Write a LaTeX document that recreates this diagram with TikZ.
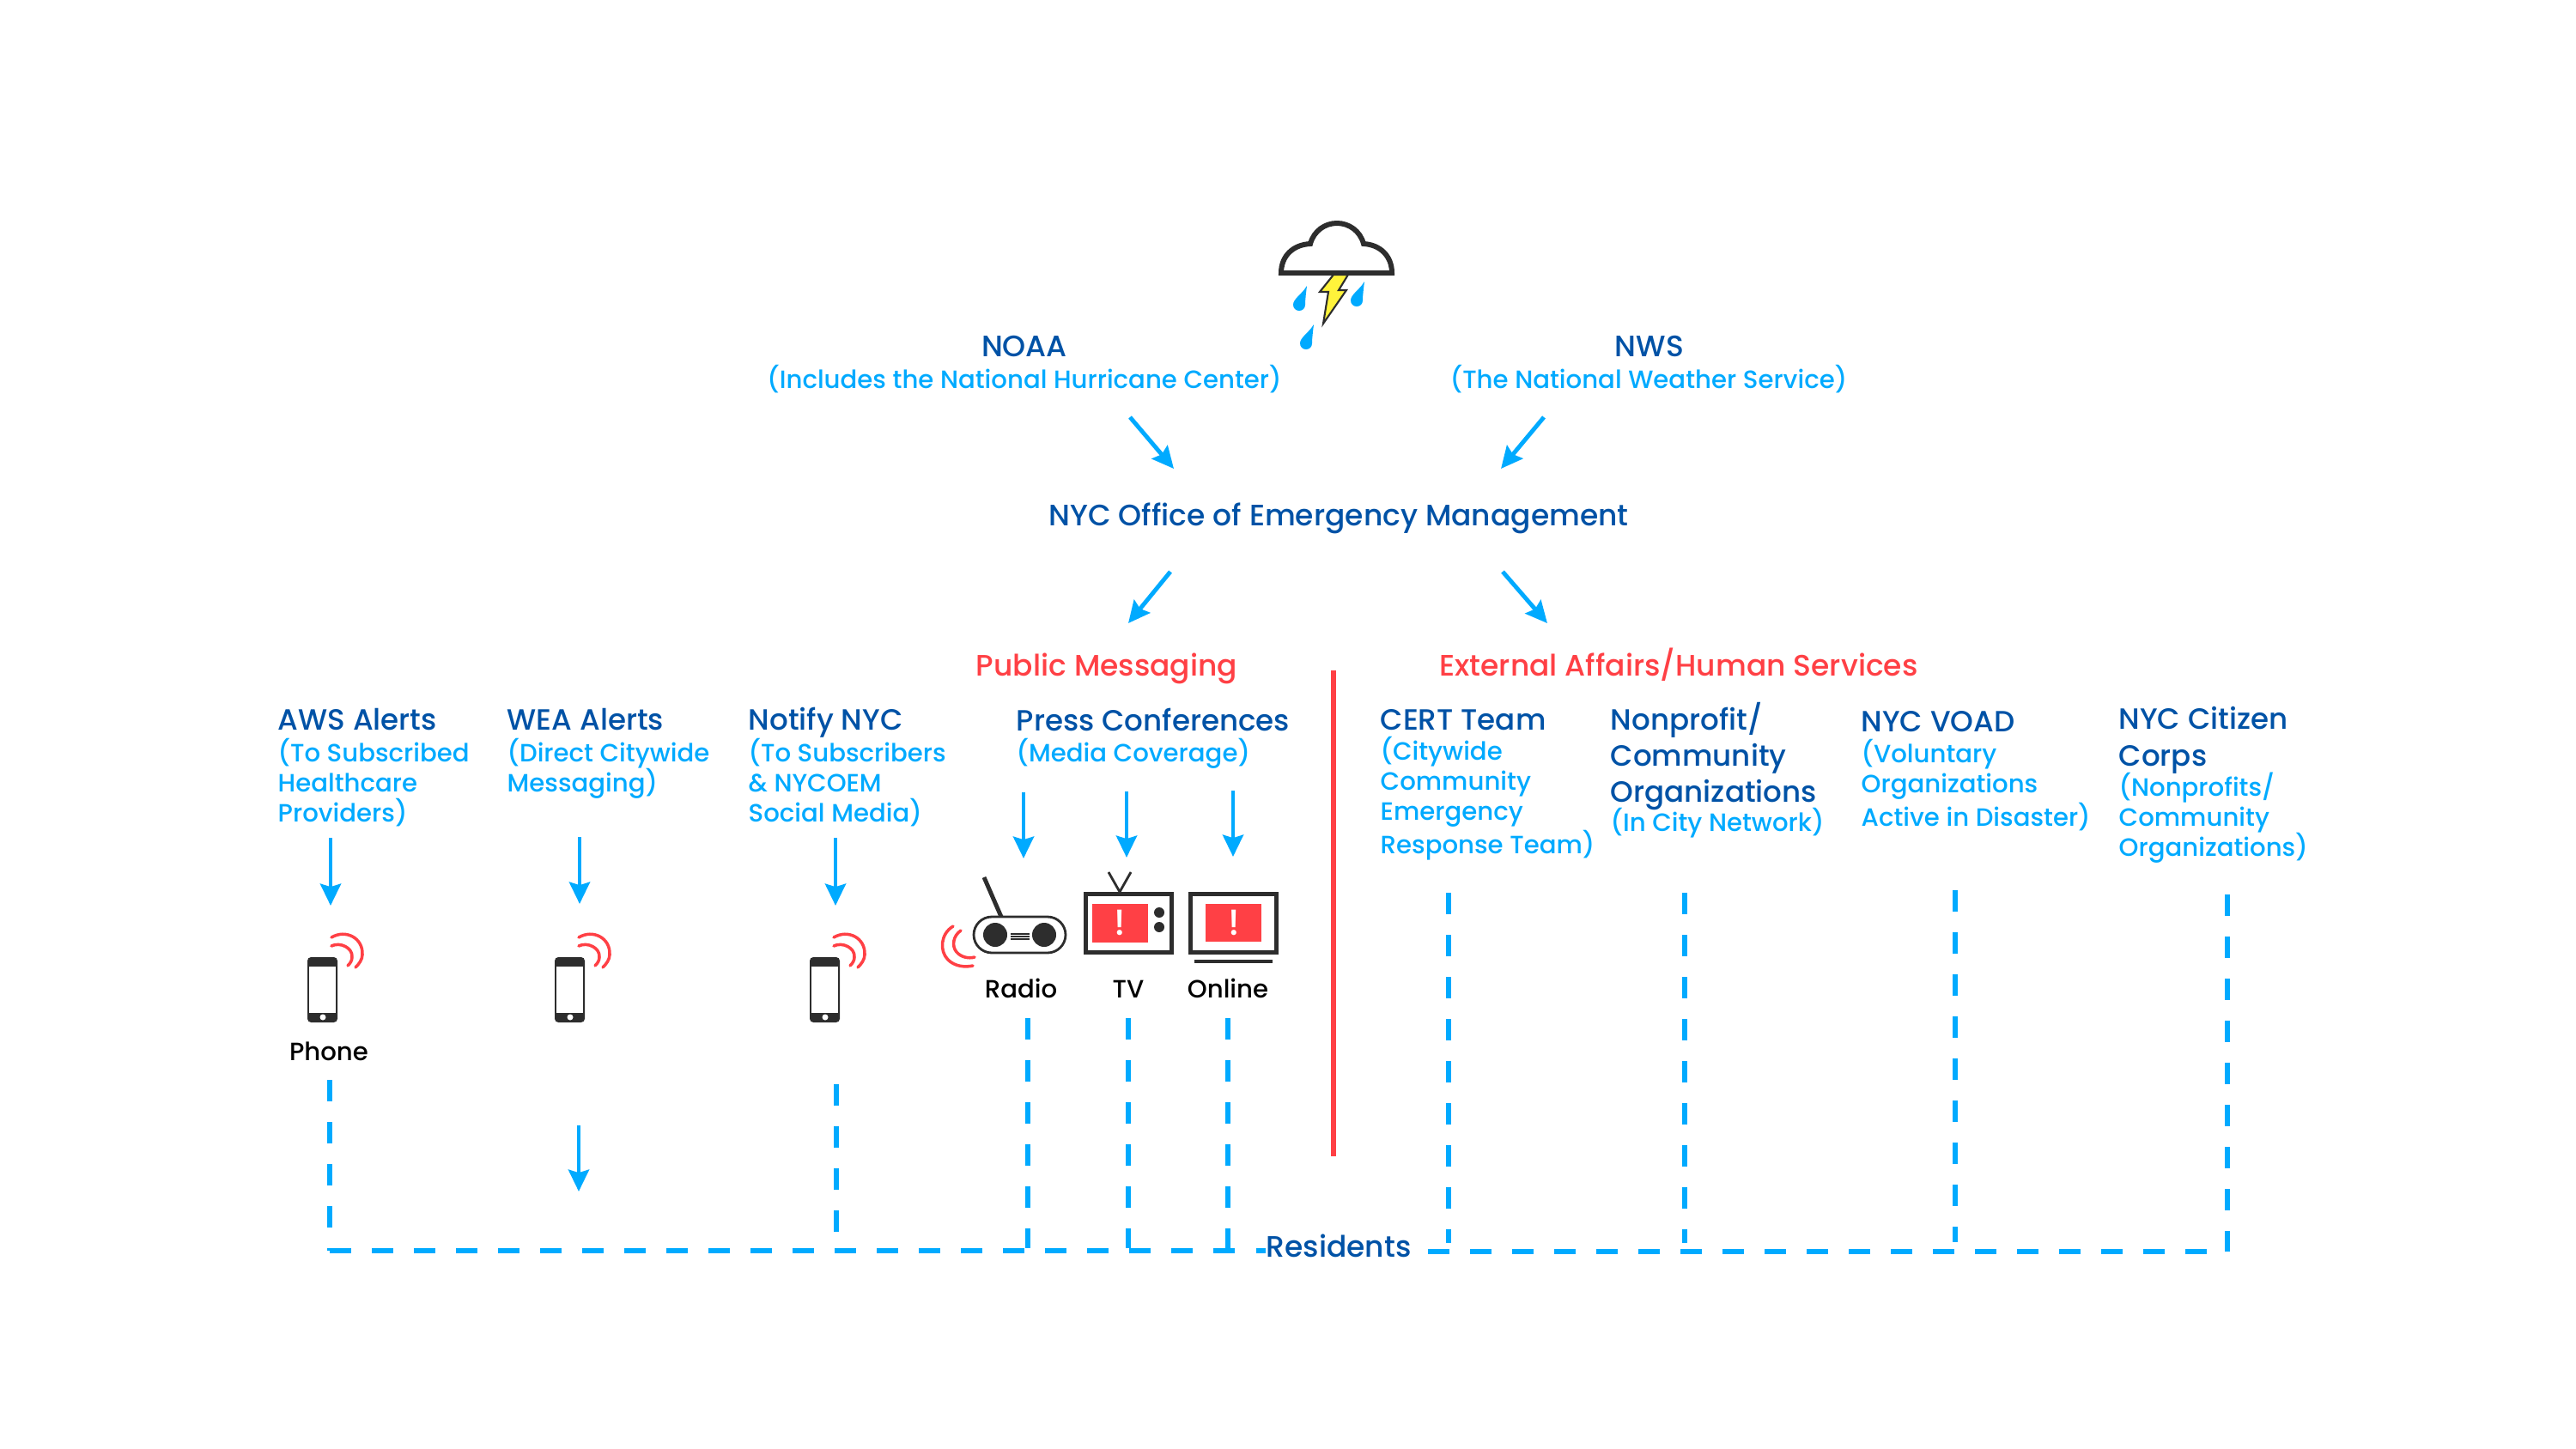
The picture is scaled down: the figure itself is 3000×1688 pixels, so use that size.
\documentclass[tikz,border=0pt]{standalone}
\usepackage{fontspec}
\setmainfont{Poppins}
\newfontfamily\medfont{Poppins Medium}
\usetikzlibrary{arrows.meta}
\definecolor{navytxt}{HTML}{0052A6}
\definecolor{skytxt}{HTML}{00AAFF}
\definecolor{alertred}{HTML}{FF4045}
\definecolor{icondark}{HTML}{2D2D2D}
\definecolor{boltyellow}{HTML}{FFF33B}
\tikzset{
  headtxt/.style={anchor=north west,inner sep=0pt,align=left,text=navytxt,font=\fontsize{9.7}{11.95}\selectfont\medfont,execute at begin node=\strut},
  subtxt/.style={anchor=north west,inner sep=0pt,align=left,text=skytxt,font=\fontsize{8.3}{9.96}\selectfont\medfont,execute at begin node=\strut},
  toptxt/.style={anchor=base,inner sep=0pt,text=navytxt,font=\fontsize{9.8}{11.95}\selectfont\medfont},
  topsub/.style={anchor=base,inner sep=0pt,text=skytxt,font=\fontsize{8.3}{9.96}\selectfont\medfont},
  redtxt/.style={anchor=base,inner sep=0pt,text=alertred,font=\fontsize{9.8}{11.95}\selectfont\medfont},
  devtxt/.style={anchor=base,inner sep=0pt,text=black,font=\fontsize{8.3}{9.96}\selectfont\medfont},
  alerttxt/.style={inner sep=0pt,text=white,font=\fontsize{12}{12}\selectfont\medfont},
  flow/.style={draw=skytxt,line width=1.4pt,-{Stealth[length=7.2pt,width=6.8pt,inset=1pt]}},
  dashline/.style={draw=skytxt,line width=1.6pt,dash pattern=on 7pt off 6.94pt},
  wavered/.style={draw=alertred,line width=1pt,line cap=round},
  framebox/.style={draw=icondark,line width=1.45pt},
  handset/.pic={
    \fill[icondark,rounded corners=1.2pt] (-18,-38) rectangle (17,38);
    \fill[white] (-16,-27) rectangle (15,27);
    \fill[white] (0,32) circle (3.5);
    \draw[wavered] (10,-61) .. controls (27,-71) and (47,-60) .. (46,-41) .. controls (46,-35) and (42,-30) .. (38,-26);
    \draw[wavered] (10,-51) .. controls (20,-56) and (35,-49) .. (34,-38) .. controls (34,-34) and (32,-31) .. (29,-28);
  },
  raindrop/.pic={
    \fill[skytxt] (9,-22) .. controls (3,-12) and (-7,-7) .. (-7,0) .. controls (-7,4) and (-4,7) .. (0,7) .. controls (4,7) and (7,4) .. (7,0) .. controls (7,-6) and (8,-14) .. (9,-22) -- cycle;
  }
}
\begin{document}
\begin{tikzpicture}[x=0.01cm,y=-0.01cm]
\useasboundingbox (0,0) rectangle (3000,1688);
\draw[icondark,line width=1.7pt,fill=white] (1492,318) .. controls (1492,298) and (1506,285) .. (1526,284) .. controls (1530,269) and (1543,260) .. (1557,260) .. controls (1571,260) and (1584,269) .. (1588,284) .. controls (1607,285) and (1621,298) .. (1621,318) -- cycle;
\draw[icondark,line width=0.6pt,fill=boltyellow] (1553,320) -- (1570,320) -- (1559,338) -- (1568,338) -- (1541,377) -- (1547,340) -- (1537,340) -- cycle;
\pic at (1513,355) {raindrop};
\pic at (1580,350) {raindrop};
\pic at (1521,400) {raindrop};
\node[toptxt] (noaa) at (1193,415) {NOAA};
\node[topsub] (noaasub) at (1193,452) {(Includes the National Hurricane Center)};
\node[toptxt] (nws) at (1921,415) {NWS};
\node[topsub] (nwssub) at (1920,452) {(The National Weather Service)};
\node[toptxt] (oem) at (1559,612) {NYC Office of Emergency Management};
\node[redtxt] (public) at (1289,787) {Public Messaging};
\node[redtxt] (external) at (1955,787) {External Affairs/Human Services};
\node[headtxt] (aws) at (323,820) {AWS Alerts};
\node[subtxt] (awssub) at (323,859.5) {(To Subscribed\\Healthcare\\Providers)};
\node[headtxt] (wea) at (590,820) {WEA Alerts};
\node[subtxt] (weasub) at (590,859.5) {(Direct Citywide\\Messaging)};
\node[headtxt] (notify) at (871,820) {Notify NYC};
\node[subtxt] (notifysub) at (871,859.5) {(To Subscribers\\\& NYCOEM\\Social Media)};
\node[headtxt] (press) at (1183,821) {Press Conferences};
\node[subtxt] (presssub) at (1183,859.5) {(Media Coverage)};
\node[headtxt] (cert) at (1607,820) {CERT Team};
\node[subtxt] (certsub) at (1607,857.5) {(Citywide\\Community\\Emergency\\Response Team)};
\node[headtxt] (nonprofit) at (1875,818) {Nonprofit/\\Community\\Organizations};
\node[subtxt] (nonprofitsub) at (1875,940.5) {(In City Network)};
\node[headtxt] (voad) at (2167,822) {NYC VOAD};
\node[subtxt] (voadsub) at (2167,860.5) {(Voluntary\\Organizations\\Active in Disaster)};
\node[headtxt] (citizen) at (2467,823) {NYC Citizen\\Corps};
\node[subtxt] (citizensub) at (2467,899.5) {(Nonprofits/\\Community\\Organizations)};
\foreach \arrname/\xa/\ya/\xb/\yb in {noaaarr/1316/486/1367/546,nwsarr/1798/486/1748/546,pubarr/1363/666/1314/726,extarr/1750/666/1802/726,awsarr/385/976/385/1055,weaarr/675/975/675/1053,notifyarr/973/976/973/1055,radioarr/1192/923/1192/1000,tvarr/1312/922/1312/999,onlinearr/1436/921/1436/998,wealow/674/1311/674/1388} {
  \coordinate (\arrname a) at (\xa,\ya);
  \coordinate (\arrname b) at (\xb,\yb);
  \draw[flow] (\arrname a) -- (\arrname b);
}
\pic at (376,1153) {handset};
\pic at (664,1153) {handset};
\pic at (961,1153) {handset};
\node[devtxt] (phonelab) at (383,1235) {Phone};
\draw[icondark,line width=1.4pt] (1146,1022) -- (1166,1068);
\draw[icondark,line width=0.8pt,fill=white,rounded corners=6pt] (1134,1068) rectangle (1241,1110);
\fill[icondark] (1159,1089) circle (14);
\fill[icondark] (1216,1089) circle (14);
\draw[icondark,line width=0.3pt] (1177,1088) -- (1199,1088) (1177,1091) -- (1199,1091) (1177,1094) -- (1199,1094);
\draw[wavered] (1110,1079) .. controls (1095,1088) and (1094,1108) .. (1104,1118) .. controls (1112,1126) and (1124,1127) .. (1133,1125);
\draw[wavered] (1119,1084) .. controls (1110,1090) and (1108,1102) .. (1114,1109) .. controls (1119,1115) and (1128,1117) .. (1135,1115);
\node[devtxt] (radiolab) at (1189,1162) {Radio};
\draw[icondark,line width=0.8pt] (1291,1016) -- (1304,1039) -- (1317,1016);
\draw[framebox] (1264.5,1041.5) rectangle (1364.5,1109.5);
\fill[alertred] (1272,1053) rectangle (1337,1098);
\node[alerttxt] (tvalert) at (1304,1075) {!};
\fill[icondark] (1350,1063) circle (6);
\fill[icondark] (1350,1080) circle (6);
\node[devtxt] (tvlab) at (1314,1162) {TV};
\draw[framebox] (1386.5,1041.5) rectangle (1486.5,1109.5);
\fill[alertred] (1404,1053) rectangle (1469,1097);
\node[alerttxt] (onlinealert) at (1437,1075) {!};
\draw[icondark,line width=0.9pt] (1391,1120) -- (1482,1120);
\node[devtxt] (onlinelab) at (1430,1162) {Online};
\draw[alertred,line width=1.6pt] (1553,781) -- (1553,1347);
\node[toptxt] (residents) at (1559,1464) {Residents};
\foreach \dropname/\xa/\ya/\yb in {phonedrop/384/1258/1457,notifydrop/974/1263/1457,radiodrop/1197/1186/1454,tvdrop/1314/1186/1454,onlinedrop/1430/1186/1454,certdrop/1687/1040/1448,nonprofitdrop/1962/1040/1448,voaddrop/2277/1037/1447,citizendrop/2594/1042/1458} {
  \coordinate (\dropname a) at (\xa,\ya);
  \coordinate (\dropname b) at (\xa,\yb);
  \draw[dashline] (\dropname a) -- (\dropname b);
}
\coordinate (busleft) at (384,1457);
\coordinate (busmid) at (1663,1458);
\coordinate (busright) at (2594,1458);
\draw[dashline] (busleft) -- (busleft -| residents.west);
\draw[dashline] (busmid) -- (busright);
\end{tikzpicture}
\end{document}
